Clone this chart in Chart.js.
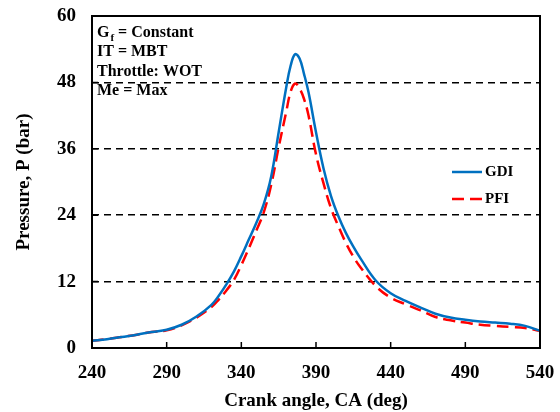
<!DOCTYPE html>
<html lang="en">

<head>
    <meta charset="UTF-8" />
    <title>Pressure vs Crank Angle</title>
    <script src="https://cdn.jsdelivr.net/npm/chart.js"></script>
    <style>
        body {
            margin: 0;
            background: #fff;
        }

        #wrap {
            width: 560px;
            height: 412px;
        }
    </style>
</head>

<body>
    <div id="wrap"><canvas id="pChart" width="560" height="412"></canvas></div>

    <script>
        // crank angle (deg)
        const crankAngle = [240, 250, 260, 270, 280, 290, 300, 310, 320, 325, 330, 335, 340, 345, 350, 355, 360, 365, 370, 373, 376, 379, 382, 385, 390, 395, 400, 405, 410, 415, 420, 430, 440, 450, 460, 470, 480, 490, 500, 510, 520, 530, 540];
        // pressure (bar)
        const gdiPressure = [1.3, 1.6, 2.0, 2.4, 2.9, 3.3, 4.2, 5.7, 7.8, 9.5, 11.5, 13.8, 16.6, 19.6, 22.6, 26.0, 31.0, 39.0, 47.0, 51.0, 53.1, 52.3, 49.5, 46.2, 39.0, 32.5, 27.5, 23.8, 20.8, 18.3, 16.1, 12.2, 9.9, 8.5, 7.3, 6.2, 5.5, 5.1, 4.8, 4.6, 4.4, 4.0, 3.1];
        const pfiPressure = [1.3, 1.6, 2.0, 2.4, 2.9, 3.2, 4.1, 5.5, 7.4, 8.8, 10.4, 12.3, 15.0, 18.0, 21.2, 24.5, 29.5, 36.3, 42.6, 46.3, 47.8, 46.9, 45.0, 42.0, 35.0, 29.8, 25.3, 22.0, 19.0, 16.5, 14.5, 11.2, 9.1, 7.9, 6.8, 5.6, 5.0, 4.6, 4.2, 4.0, 3.8, 3.6, 3.1];

        const xTicks = [240, 290, 340, 390, 440, 490, 540];
        const yTicks = [0, 12, 24, 36, 48, 60];
        const notes = ["IT = MBT", "Throttle: WOT", "Me = Max"];

        const serif = '"Liberation Serif", "Times New Roman", serif';
        const blue = '#0070C0';
        const red = '#FF0000';

        const toPoints = (xs, ys) => xs.map((x, i) => ({ x: x, y: ys[i] }));

        // box, inward ticks, legend and notes
        const extras = {
            id: 'extras',
            afterDraw(chart) {
                const ctx = chart.ctx;
                const a = chart.chartArea;
                const xs = chart.scales.x;
                const ys = chart.scales.y;
                ctx.save();
                ctx.strokeStyle = '#000';
                ctx.lineWidth = 2;
                ctx.setLineDash([]);
                ctx.strokeRect(a.left, a.top, a.right - a.left, a.bottom - a.top);

                ctx.lineWidth = 1.5;
                ctx.beginPath();
                xTicks.forEach(t => {
                    const px = xs.getPixelForValue(t);
                    ctx.moveTo(px, a.bottom);
                    ctx.lineTo(px, a.bottom - 6);
                });
                yTicks.forEach(t => {
                    const py = ys.getPixelForValue(t);
                    ctx.moveTo(a.left, py);
                    ctx.lineTo(a.left + 6, py);
                });
                ctx.stroke();

                // legend
                ctx.lineWidth = 2.5;
                ctx.strokeStyle = blue;
                ctx.beginPath();
                ctx.moveTo(452, 172);
                ctx.lineTo(482, 172);
                ctx.stroke();
                ctx.strokeStyle = red;
                ctx.setLineDash([12, 6]);
                ctx.beginPath();
                ctx.moveTo(452, 199);
                ctx.lineTo(482, 199);
                ctx.stroke();
                ctx.setLineDash([]);

                ctx.fillStyle = '#000';
                ctx.font = 'bold 15px ' + serif;
                ctx.textBaseline = 'middle';
                ctx.textAlign = 'left';
                ctx.fillText('GDI', 485, 172);
                ctx.fillText('PFI', 485, 199);

                // notes top-left
                let x0 = a.left + 5;
                ctx.font = 'bold 16px ' + serif;
                ctx.fillText('G', x0, 33);
                let w = ctx.measureText('G').width;
                ctx.font = 'bold 11px ' + serif;
                ctx.fillText('f', x0 + w + 1, 38);
                let wf = ctx.measureText('f').width;
                ctx.font = 'bold 16px ' + serif;
                ctx.fillText(' = Constant', x0 + w + wf + 1, 33);
                notes.forEach((n, i) => {
                    ctx.fillText(n, x0, 52 + i * 19.5);
                });
                ctx.restore();
            }
        };

        new Chart(document.getElementById('pChart'), {
            type: 'line',
            data: {
                datasets: [
                    {
                        label: 'GDI',
                        data: toPoints(crankAngle, gdiPressure),
                        borderColor: blue,
                        borderWidth: 2.5,
                        pointRadius: 0,
                        tension: 0.4,
                        fill: false
                    },
                    {
                        label: 'PFI',
                        data: toPoints(crankAngle, pfiPressure),
                        borderColor: red,
                        borderWidth: 2.5,
                        borderDash: [12, 6],
                        pointRadius: 0,
                        tension: 0.4,
                        fill: false
                    }
                ]
            },
            options: {
                responsive: false,
                animation: false,
                layout: { padding: { top: 16, right: 20, left: 0, bottom: 0 } },
                plugins: {
                    legend: { display: false },
                    tooltip: { enabled: false }
                },
                scales: {
                    x: {
                        type: 'linear',
                        min: 240,
                        max: 540,
                        afterBuildTicks: s => { s.ticks = xTicks.map(v => ({ value: v })); },
                        afterFit: s => { s.height = 64; s.paddingLeft = 0; s.paddingRight = 0; },
                        grid: { display: false },
                        border: { display: false },
                        ticks: {
                            color: '#000',
                            padding: 6,
                            maxRotation: 0,
                            font: { family: serif, size: 19, weight: 'bold' }
                        },
                        title: {
                            display: true,
                            text: 'Crank angle, CA (deg)',
                            color: '#000',
                            padding: { top: 2, bottom: 0 },
                            font: { family: serif, size: 19, weight: 'bold' }
                        }
                    },
                    y: {
                        min: 0,
                        max: 60,
                        afterBuildTicks: s => { s.ticks = yTicks.map(v => ({ value: v })); },
                        afterFit: s => { s.width = 92; s.paddingTop = 0; s.paddingBottom = 0; },
                        grid: {
                            drawTicks: false,
                            lineWidth: 1.5,
                            color: c => (c.tick && (c.tick.value === 0 || c.tick.value === 60)) ? 'rgba(0,0,0,0)' : '#000'
                        },
                        border: { display: false, dash: [7, 5] },
                        ticks: {
                            color: '#000',
                            padding: 16,
                            font: { family: serif, size: 19, weight: 'bold' }
                        },
                        title: {
                            display: true,
                            text: 'Pressure, P (bar)',
                            color: '#000',
                            padding: { top: 13, bottom: 0 },
                            font: { family: serif, size: 19, weight: 'bold' }
                        }
                    }
                }
            },
            plugins: [extras]
        });
    </script>

</body>

</html>
